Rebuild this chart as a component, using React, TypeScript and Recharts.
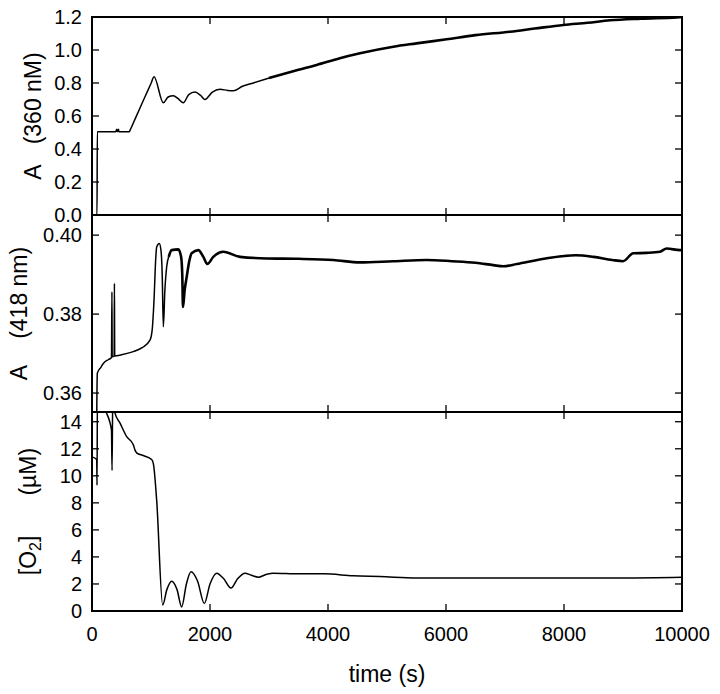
import { LineChart, Line, XAxis, YAxis } from "recharts"

const FONT = '"Liberation Sans", Arial, Helvetica, sans-serif'
const INK = "#000"
const TL = 7 // inward tick length

// shared time axis (s)
const timeTicks = [0, 2000, 4000, 6000, 8000, 10000]

// A (360 nM)
const t360 = [
  0, 85, 90, 400, 420, 425, 450, 455, 633, 640, 750, 900, 1000, 1051, 1209, 1290, 1379,
  1460, 1548, 1640, 1746, 1840, 1915, 2040, 2169, 2300, 2395, 2550, 2734, 3000, 3243,
  3500, 3808, 4200, 4542, 5107, 5500, 6011, 6500, 7085, 7500, 7989, 8400, 8780, 9300,
  9910, 10000,
]
const a360 = [
  0, 0, 0.505, 0.505, 0.52, 0.505, 0.52, 0.505, 0.505, 0.51, 0.598, 0.718, 0.797, 0.838,
  0.68, 0.715, 0.723, 0.705, 0.68, 0.73, 0.745, 0.725, 0.7, 0.745, 0.762, 0.755, 0.753,
  0.78, 0.8, 0.83, 0.855, 0.88, 0.909, 0.95, 0.98, 1.02, 1.04, 1.065, 1.09, 1.111, 1.13,
  1.152, 1.165, 1.18, 1.19, 1.198, 1.2,
]
const a360Ticks = [0, 0.2, 0.4, 0.6, 0.8, 1.0, 1.2]

// A (418 nm)
const t418 = [
  80, 90, 150, 192, 280, 330, 338, 342, 375, 380, 385, 500, 700, 850, 983, 1020, 1051,
  1080, 1096, 1141, 1170, 1190, 1209, 1235, 1266, 1300, 1350, 1463, 1510, 1530, 1542,
  1570, 1605, 1650, 1689, 1802, 1887, 1955, 2056, 2226, 2508, 2960, 3500, 4090, 4542,
  5100, 5672, 6100, 6500, 6802, 6972, 7200, 7689, 8198, 8500, 8819, 9000, 9175, 9400,
  9627, 9740, 9966, 10000,
]
const a418 = [
  0.354, 0.365, 0.3665, 0.3675, 0.3685, 0.369, 0.3856, 0.3692, 0.3693, 0.3878, 0.3694,
  0.3697, 0.3705, 0.3715, 0.3734, 0.376, 0.3835, 0.394, 0.397, 0.3979, 0.396, 0.39,
  0.3768, 0.386, 0.392, 0.3945, 0.3962, 0.3964, 0.3945, 0.39, 0.3818, 0.386, 0.3894,
  0.3935, 0.3954, 0.3962, 0.3945, 0.3927, 0.3945, 0.3958, 0.3945, 0.3941, 0.394, 0.3937,
  0.3931, 0.3934, 0.3937, 0.3934, 0.393, 0.3924, 0.3921, 0.3927, 0.3941, 0.3949, 0.3945,
  0.3937, 0.3934, 0.3954, 0.3955, 0.3958, 0.3966, 0.3962, 0.3962,
]
const a418Ticks = [0.36, 0.38, 0.4]

// [O2] (µM)
const tO2 = [
  0, 80, 85, 92, 230, 330, 340, 352, 390, 475, 588, 700, 729, 757, 870, 1011, 1040, 1096,
  1198, 1270, 1350, 1440, 1520, 1600, 1678, 1790, 1904, 2000, 2113, 2230, 2356, 2470,
  2593, 2700, 2819, 2950, 3073, 3500, 3932, 4429, 4881, 5503, 6800, 8000, 9000, 10000,
]
const o2 = [
  11.4, 11.2, 9.3, 16, 14.8, 13.4, 10.4, 16, 14.64, 13.9, 12.9, 12.3, 11.9, 11.7, 11.5,
  11.2, 10.9, 8.2, 0.45, 1.6, 2.2, 1.6, 0.3, 2.0, 2.9, 2.2, 0.55, 2.0, 2.8, 2.4, 1.7, 2.4,
  2.8, 2.65, 2.5, 2.7, 2.8, 2.75, 2.75, 2.6, 2.55, 2.45, 2.45, 2.45, 2.45, 2.5,
]
const o2Ticks = [0, 2, 4, 6, 8, 10, 12, 14]

// split each trace into a clean early part and the noisier (thicker) later part
function rows(ts: number[], vs: number[], noisyFrom: number) {
  return ts.map((t, i) => ({
    t,
    clean: t <= noisyFrom ? vs[i] : null,
    noisy: t >= noisyFrom ? vs[i] : null,
  }))
}

const tickStroke = { stroke: INK, strokeWidth: 1.3 }
const labelText = { fontFamily: FONT, fontSize: 20, fill: INK }

const leftTick = (fmt: (v: number) => string) => (p: any) => (
  <g>
    <line x1={p.x} x2={p.x + TL} y1={p.y} y2={p.y} {...tickStroke} />
    <text x={p.x - 10} y={p.y} dy="0.36em" textAnchor="end" {...labelText}>
      {fmt(p.payload.value)}
    </text>
  </g>
)
const rightTick = (p: any) => <line x1={p.x} x2={p.x - TL} y1={p.y} y2={p.y} {...tickStroke} />
const topTick = (p: any) => <line x1={p.x} x2={p.x} y1={p.y} y2={p.y + TL} {...tickStroke} />
const bottomTick = (withLabel: boolean) => (p: any) => (
  <g>
    <line x1={p.x} x2={p.x} y1={p.y} y2={p.y - TL} {...tickStroke} />
    {withLabel && (
      <text x={p.x} y={p.y + 30} textAnchor="middle" {...labelText}>
        {p.payload.value}
      </text>
    )}
  </g>
)

function YTitle({ kind, px, py }: { kind: string; px: number; py: number }) {
  return (
    <text
      transform={`rotate(-90 ${px} ${py})`}
      x={px}
      y={py}
      textAnchor="middle"
      fontFamily={FONT}
      fontSize={23}
      fill={INK}
    >
      {kind === "360" && (
        <>
          <tspan>A</tspan>
          <tspan dx={20}>(360 nM)</tspan>
        </>
      )}
      {kind === "418" && (
        <>
          <tspan>A</tspan>
          <tspan dx={26}>(418 nm)</tspan>
        </>
      )}
      {kind === "o2" && (
        <>
          <tspan>[O</tspan>
          <tspan dy={5} fontSize={16}>2</tspan>
          <tspan dy={-5}>]</tspan>
          <tspan dx={40}>(µM)</tspan>
        </>
      )}
    </text>
  )
}

function TimeTitle({ py }: { py: number }) {
  return (
    <text x={387} y={py} textAnchor="middle" fontFamily={FONT} fontSize={23} fill={INK}>
      time (s)
    </text>
  )
}

const frame = { stroke: INK, strokeWidth: 2, strokeLinecap: "square" as const }

function Panel(props: {
  top: number
  height: number
  mTop: number
  mBottom: number
  data: any[]
  domain: [number, number]
  ticks: number[]
  fmt: (v: number) => string
  title: string
  titleX: number
  last?: boolean
}) {
  const { top, height, mTop, mBottom, data, domain, ticks, fmt, title, titleX, last } = props
  const cy = mTop + (height - mTop - mBottom) / 2
  return (
    <div style={{ position: "absolute", left: 0, top, width: 720, height }}>
      <LineChart
        width={720}
        height={height}
        data={data}
        margin={{ top: mTop - 1, bottom: mBottom - 1, left: 0, right: 37 }}
      >
        <XAxis
          dataKey="t"
          type="number"
          domain={[0, 10000]}
          ticks={timeTicks}
          interval={0}
          height={1}
          tickSize={0}
          tickMargin={0}
          tickLine={false}
          axisLine={frame}
          tick={bottomTick(!!last)}
          label={last ? <TimeTitle py={height - mBottom + 71} /> : undefined}
        />
        <XAxis
          xAxisId="top"
          orientation="top"
          dataKey="t"
          type="number"
          domain={[0, 10000]}
          ticks={timeTicks}
          interval={0}
          height={1}
          tickSize={0}
          tickMargin={0}
          tickLine={false}
          axisLine={frame}
          tick={topTick}
        />
        <YAxis
          type="number"
          domain={domain}
          allowDataOverflow
          ticks={ticks}
          interval={0}
          width={92}
          tickSize={0}
          tickMargin={0}
          tickLine={false}
          axisLine={frame}
          tick={leftTick(fmt)}
          label={<YTitle kind={title} px={titleX} py={cy} />}
        />
        <YAxis
          yAxisId="r"
          orientation="right"
          type="number"
          domain={domain}
          allowDataOverflow
          ticks={ticks}
          interval={0}
          width={1}
          tickSize={0}
          tickMargin={0}
          tickLine={false}
          axisLine={frame}
          tick={rightTick}
        />
        <Line
          dataKey="clean"
          type="monotone"
          stroke={INK}
          strokeWidth={1.5}
          dot={false}
          activeDot={false}
          isAnimationActive={false}
        />
        <Line
          dataKey="noisy"
          type="monotone"
          stroke={INK}
          strokeWidth={2.6}
          dot={false}
          activeDot={false}
          isAnimationActive={false}
        />
      </LineChart>
    </div>
  )
}

export default function App() {
  return (
    <div style={{ position: "absolute", left: 0, top: 0, width: 720, height: 694, background: "#fff" }}>
      <Panel
        top={0}
        height={237}
        mTop={17}
        mBottom={22}
        data={rows(t360, a360, 3000)}
        domain={[0, 1.2]}
        ticks={a360Ticks}
        fmt={(v) => v.toFixed(1)}
        title="360"
        titleX={41}
      />
      <Panel
        top={195}
        height={237}
        mTop={20}
        mBottom={20}
        data={rows(t418, a418, 1300)}
        domain={[0.3552, 0.4051]}
        ticks={a418Ticks}
        fmt={(v) => v.toFixed(2)}
        title="418"
        titleX={27}
      />
      <Panel
        top={392}
        height={302}
        mTop={20}
        mBottom={83}
        data={rows(tO2, o2, 20000)}
        domain={[0, 14.72]}
        ticks={o2Ticks}
        fmt={(v) => String(v)}
        title="o2"
        titleX={36}
        last
      />
    </div>
  )
}
